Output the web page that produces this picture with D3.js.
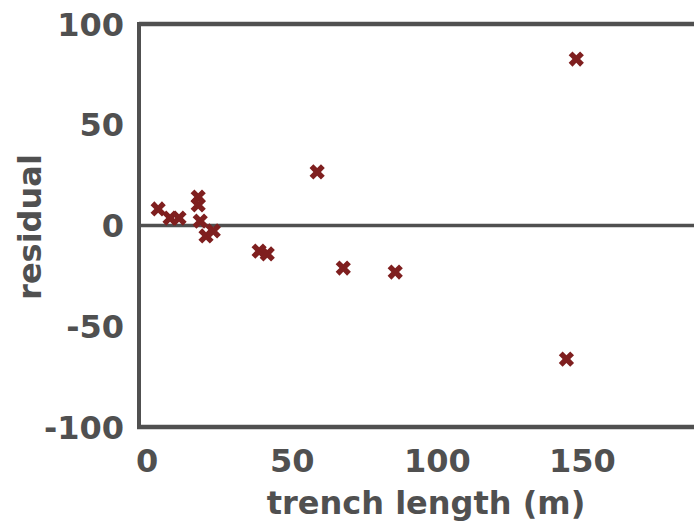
<!DOCTYPE html>
<html>
<head>
<meta charset="utf-8">
<script src="https://cdn.jsdelivr.net/npm/d3@7"></script>
<style>
  body { margin: 0; background: #fff; }
  text { font-family: "DejaVu Sans", Verdana, sans-serif; font-weight: bold; fill: #505050; }
</style>
</head>
<body>
<div id="my_dataviz"></div>
<script>
// trench length (m) vs residual
var trenchLength = [3.8, 7.9, 11.0, 17.6, 17.6, 18.3, 20.3, 22.8, 38.6, 41.4, 58.6, 67.6, 85.5, 147.9, 144.5];
var residual     = [8.2, 3.7, 3.7, 14.1, 10.2, 2.2, -5.2, -2.7, -12.7, -14.1, 26.6, -21.1, -23.1, 82.6, -66.3];
var xTicks = [0, 50, 100, 150];
var yTicks = [-100, -50, 0, 50, 100];

var width = 694, height = 521;
var axisColor = "#505050", markColor = "#7f1f1f";

var svg = d3.select("#my_dataviz")
        .append("svg")
        .attr("width", width)
        .attr("height", height);

var x = d3.scaleLinear()
    .domain([-2.8, 189.5])
    .range([139, 697]);

var y = d3.scaleLinear()
    .domain([-100, 100])
    .range([427, 24]);

var xMin = x.domain()[0], xMax = x.domain()[1];

// plot frame: top, bottom, left, and the zero line
svg.append("line")
    .attr("x1", x(xMin)).attr("x2", x(xMax))
    .attr("y1", y(100)).attr("y2", y(100))
    .attr("stroke", axisColor).attr("stroke-width", 4.5);

svg.append("line")
    .attr("x1", x(xMin) - 2).attr("x2", x(xMax))
    .attr("y1", y(-100)).attr("y2", y(-100))
    .attr("stroke", axisColor).attr("stroke-width", 4.5);

svg.append("line")
    .attr("x1", x(xMin)).attr("x2", x(xMin))
    .attr("y1", y(100) - 2).attr("y2", y(-100))
    .attr("stroke", axisColor).attr("stroke-width", 4);

svg.append("line")
    .attr("x1", x(xMin)).attr("x2", x(xMax))
    .attr("y1", y(0)).attr("y2", y(0))
    .attr("stroke", axisColor).attr("stroke-width", 3.5);

// tick labels
svg.append("g")
    .selectAll("text")
    .data(xTicks)
    .enter()
    .append("text")
        .attr("x", function(d) { return x(d) })
        .attr("y", 472)
        .attr("text-anchor", "middle")
        .attr("font-size", 32)
        .text(function(d) { return d });

svg.append("g")
    .selectAll("text")
    .data(yTicks)
    .enter()
    .append("text")
        .attr("x", 124)
        .attr("y", function(d) { return y(d) })
        .attr("dy", "0.36em")
        .attr("text-anchor", "end")
        .attr("font-size", 32)
        .text(function(d) { return d });

// axis titles
svg.append("text")
    .attr("x", 426)
    .attr("y", 514)
    .attr("text-anchor", "middle")
    .attr("font-size", 32)
    .text("trench length (m)");

svg.append("text")
    .attr("transform", "translate(41,227) rotate(-90)")
    .attr("text-anchor", "middle")
    .attr("font-size", 32)
    .text("residual");

// markers
var pts = trenchLength.map(function(d, i) { return {x: d, y: residual[i]} });

svg.append("g")
    .selectAll("path")
    .data(pts)
    .enter()
    .append("path")
        .attr("d", d3.symbol().type(d3.symbolCross).size(145))
        .attr("transform", function(d) { return "translate(" + x(d.x) + "," + y(d.y) + ") rotate(45)" })
        .attr("fill", markColor);
</script>
</body>
</html>
